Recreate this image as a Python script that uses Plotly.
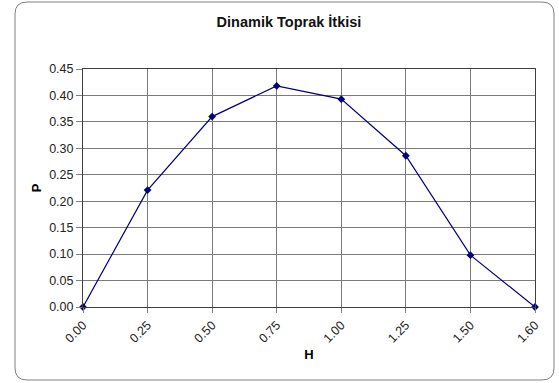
import plotly.graph_objects as go

# H values (category labels) and the corresponding P values
h_labels = ["0.00", "0.25", "0.50", "0.75", "1.00", "1.25", "1.50", "1.60"]
p_values = [0.0, 0.221, 0.360, 0.418, 0.393, 0.286, 0.098, 0.0]
y_ticks = [0.00, 0.05, 0.10, 0.15, 0.20, 0.25, 0.30, 0.35, 0.40, 0.45]

W, H = 559, 383
ML, MR, MT, MB = 83, 24, 69, 76
PW, PH = W - ML - MR, H - MT - MB

FONT = "Liberation Sans, Arial, sans-serif"

fig = go.Figure()
fig.add_trace(go.Scatter(
    x=list(range(len(h_labels))),
    y=p_values,
    mode="lines+markers",
    line=dict(color="#000080", width=1.2),
    marker=dict(symbol="diamond", size=6, color="#000080"),
    cliponaxis=False,
    showlegend=False,
))


def P(px, py):
    # pixel position -> paper coordinates of the plot area
    a, b = (px - ML) / PW, (H - MB - py) / PH
    return f"{a:.5f},{b:.5f}"


# rounded outer frame of the chart
x0, y0, x1, y1, r = 15, 2, 554, 380, 12
path = (
    f"M {P(x0 + r, y0)} L {P(x1 - r, y0)} Q {P(x1, y0)} {P(x1, y0 + r)} "
    f"L {P(x1, y1 - r)} Q {P(x1, y1)} {P(x1 - r, y1)} "
    f"L {P(x0 + r, y1)} Q {P(x0, y1)} {P(x0, y1 - r)} "
    f"L {P(x0, y0 + r)} Q {P(x0, y0)} {P(x0 + r, y0)} Z"
)
fig.add_shape(type="path", path=path, xref="paper", yref="paper",
              line=dict(color="#808080", width=1), layer="below")

fig.update_layout(
    width=W, height=H,
    margin=dict(l=ML, r=MR, t=MT, b=MB),
    paper_bgcolor="white",
    plot_bgcolor="white",
    font=dict(family=FONT, size=12, color="black"),
    title=dict(text="<b>Dinamik Toprak İtkisi</b>", x=0.517, xanchor="center",
               y=1 - 22 / H, yanchor="middle",
               font=dict(family=FONT, size=14.5, color="#111111")),
    xaxis=dict(
        range=[0, len(h_labels) - 1],
        tickmode="array",
        tickvals=list(range(len(h_labels))),
        ticktext=h_labels,
        tickangle=-45,
        ticks="outside", ticklen=5, tickcolor="#808080",
        showgrid=True, gridcolor="#7a7a7a", gridwidth=1,
        showline=True, linecolor="#404040", linewidth=1, mirror=True,
        zeroline=False,
        title=dict(text="<b>H</b>", standoff=5, font=dict(size=13)),
        tickfont=dict(size=12.5, color="#222222"),
    ),
    yaxis=dict(
        range=[0, 0.45],
        tickmode="array",
        tickvals=y_ticks,
        ticktext=[f"{v:.2f}" for v in y_ticks],
        ticks="outside", ticklen=6, tickcolor="#808080",
        showgrid=True, gridcolor="#7a7a7a", gridwidth=1,
        showline=True, linecolor="#404040", linewidth=1, mirror=True,
        zeroline=False,
        title=dict(text="<b>P</b>", standoff=4, font=dict(size=13)),
        tickfont=dict(size=12.5, color="#222222"),
    ),
)

fig.write_html("out.html")
